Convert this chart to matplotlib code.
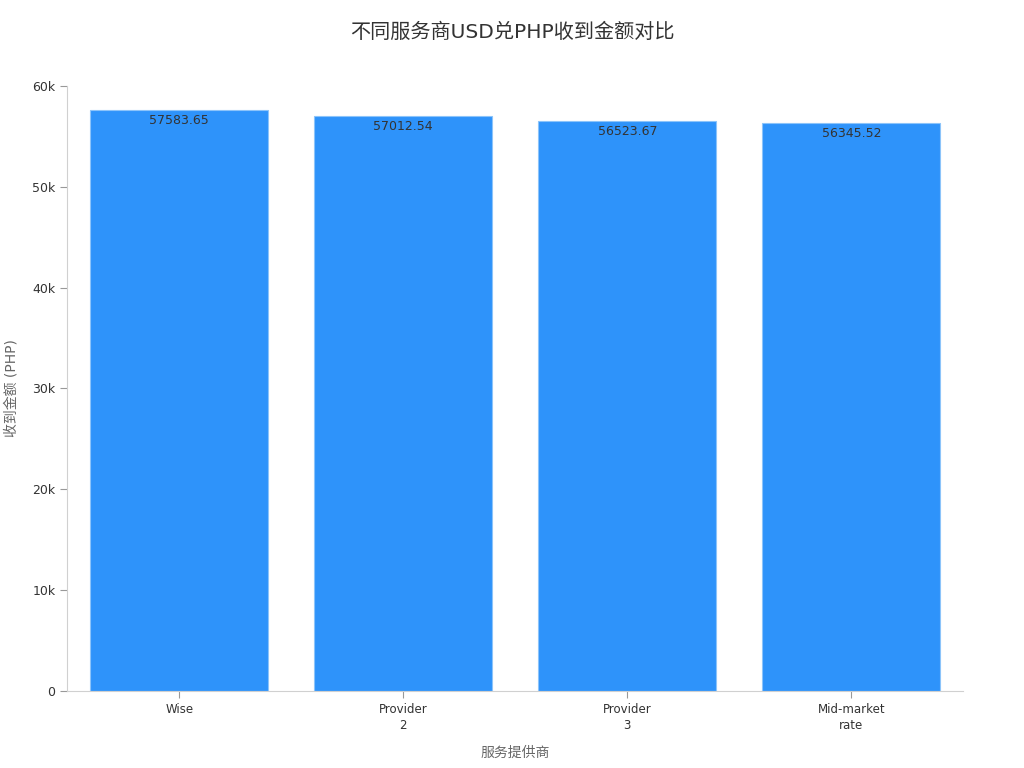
import matplotlib.pyplot as plt
from matplotlib.ticker import FuncFormatter

plt.rcParams['font.family'] = ['DejaVu Sans', 'Noto Sans CJK SC']

providers = ['Wise', 'Provider\n2', 'Provider\n3', 'Mid-market\nrate']
amounts = [57583.65, 57012.54, 56523.67, 56345.52]

fig = plt.figure(figsize=(10.24, 7.68), dpi=100)
ax = fig.add_axes([0.0657, 0.1003, 0.875, 0.7877])

x = range(len(providers))
bars = ax.bar(x, amounts, width=0.795, color='#2E93FA', edgecolor='#8CC4FA', linewidth=0.8)

for b, v in zip(bars, amounts):
    ax.text(b.get_x() + b.get_width() / 2, v - 400, f'{v:.2f}',
            ha='center', va='top', fontsize=9, color='#333333')

ax.set_xlim(-0.5, 3.5)
ax.set_ylim(0, 60000)
ax.set_yticks(range(0, 60001, 10000))
ax.yaxis.set_major_formatter(FuncFormatter(lambda v, p: '0' if v == 0 else f'{int(v/1000)}k'))
ax.set_xticks(list(x))
ax.set_xticklabels(providers, fontsize=8.5, color='#333333', linespacing=1.3)
ax.tick_params(axis='y', labelsize=9, colors='#333333', color='#999999', length=5)
ax.tick_params(axis='x', color='#999999', length=5)

for s in ['top', 'right']:
    ax.spines[s].set_visible(False)
ax.spines['left'].set_color('#d0d0d0')
ax.spines['bottom'].set_color('#d0d0d0')

ax.set_xlabel('服务提供商', fontsize=10, color='#666666', labelpad=10)
ax.set_ylabel('收到金额 (PHP)', fontsize=10, color='#666666', labelpad=10)
fig.suptitle('不同服务商USD兑PHP收到金额对比', fontsize=14.5, color='#333333', y=0.97)

fig.savefig('out.png', dpi=100)
